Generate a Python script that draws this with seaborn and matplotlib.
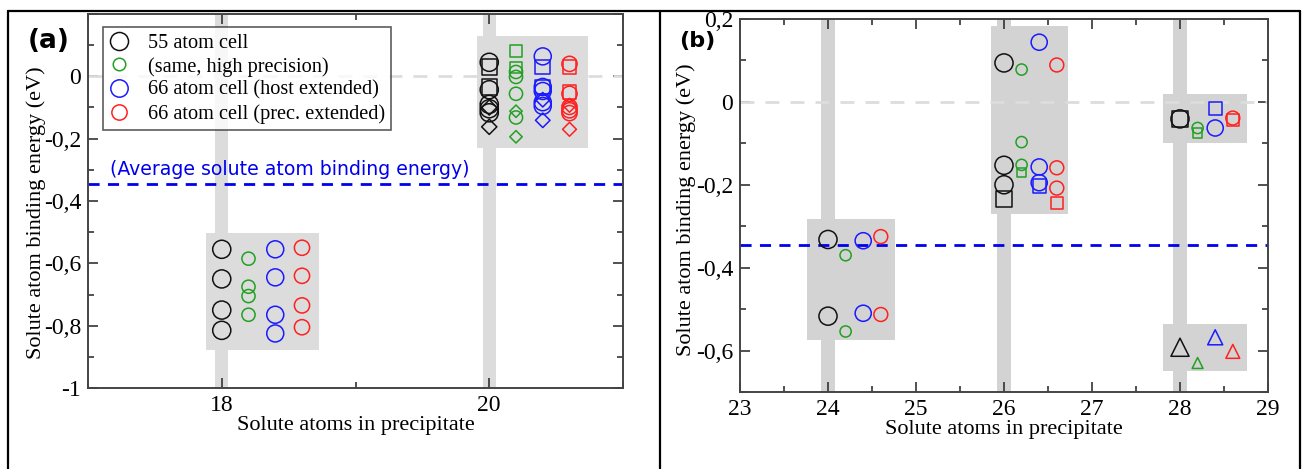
import numpy as np
import pandas as pd
import matplotlib
matplotlib.use("Agg")
import matplotlib.pyplot as plt
import seaborn as sns
from matplotlib.lines import Line2D
from matplotlib.patches import Rectangle
from matplotlib.ticker import MultipleLocator, FuncFormatter

# ---------------- data ----------------
series_labels = ["55 atom cell", "(same, high precision)",
                 "66 atom cell (host extended)", "66 atom cell (prec. extended)"]
average_binding = -0.345

# panel (a): precipitate sizes 18 and 20
a18_circle = [[-0.555, -0.650, -0.750, -0.815],
              [-0.585, -0.675, -0.705, -0.765],
              [-0.555, -0.645, -0.765, -0.825],
              [-0.550, -0.640, -0.735, -0.805]]
a20_circle = [[0.045, -0.043, -0.090, -0.104, -0.117],
              [0.014, -0.002, -0.056, -0.132],
              [0.064, -0.034, -0.047, -0.083, -0.095],
              [0.040, -0.056, -0.098, -0.109, -0.118]]
a20_square = [[0.030, -0.034],
              [0.081, 0.028],
              [0.030, -0.034],
              [0.030, -0.050]]
a20_diamond = [[-0.100, -0.162],
               [-0.112, -0.194],
               [-0.075, -0.141],
               [-0.093, -0.170]]

# panel (b): precipitate sizes 24, 26, 28
b24_circle = [[-0.332, -0.517],
              [-0.370, -0.554],
              [-0.335, -0.510],
              [-0.325, -0.513]]
b26_circle = [[0.094, -0.153, -0.200],
              [0.078, -0.097, -0.152],
              [0.144, -0.157, -0.195],
              [0.089, -0.159, -0.208]]
b26_square = [[-0.235], [-0.171], [-0.203], [-0.243]]
b28_circle = [[-0.041], [-0.063], [-0.063], [-0.039]]
b28_square = [[-0.041], [-0.075], [-0.015], [-0.043]]
b28_triangle = [[-0.592], [-0.630], [-0.568], [-0.602]]

rows = []
def add(panel, n, shape, table):
    for k, vals in enumerate(table):
        for v in vals:
            rows.append(dict(panel=panel, n=n, series=k, shape=shape, energy=v))

add("a", 18, "o", a18_circle)
add("a", 20, "o", a20_circle)
add("a", 20, "s", a20_square)
add("a", 20, "D", a20_diamond)
add("b", 24, "o", b24_circle)
add("b", 26, "o", b26_circle)
add("b", 26, "s", b26_square)
add("b", 28, "o", b28_circle)
add("b", 28, "s", b28_square)
add("b", 28, "^", b28_triangle)
df = pd.DataFrame(rows)
df["x"] = df["n"] + 0.2 * df["series"]

# ---------------- style ----------------
colors = ["#111111", "#22a022", "#1a1aff", "#ff2020"]
sizes = {
    "a": {"o": [170, 90, 150, 120], "s": [120, 70, 110, 90], "D": [60, 40, 55, 50]},
    "b": {"o": [170, 65, 135, 100], "s": [130, 45, 90, 75], "^": [170, 62, 117, 100]},
}

sns.set_style("ticks")
plt.rcParams["font.family"] = ["Liberation Serif", "DejaVu Serif"]
plt.rcParams["axes.linewidth"] = 1.4
plt.rcParams["axes.edgecolor"] = "#444444"
plt.rcParams["text.color"] = "black"
plt.rcParams["axes.labelcolor"] = "black"

fig = plt.figure(figsize=(13.02, 4.69), dpi=100)
W, H = 1302, 469
def box(l, r, t, b):
    return [l / W, 1 - b / H, (r - l) / W, (b - t) / H]

axA = fig.add_axes(box(88, 623, 14, 388))
axB = fig.add_axes(box(740, 1268, 19, 392))

def fmt(v, pos):
    if abs(v) < 1e-9:
        return "0"
    if abs(v + 1) < 1e-9:
        return "-1"
    return ("%.1f" % v).replace(".", ",")

band_col_a = "#dcdcdc"
band_col_b = "#d3d3d3"

# panel (a) background
for n in [18, 20]:
    axA.axvspan(n - 0.05, n + 0.05, color=band_col_a, lw=0, zorder=0)
axA.add_patch(Rectangle((17.88, -0.878), 0.85, 0.375, color=band_col_a, lw=0, zorder=0))
axA.add_patch(Rectangle((19.91, -0.231), 0.83, 0.359, color=band_col_a, lw=0, zorder=0))
axA.axhline(0, color="#dddddd", lw=2, ls=(0, (5, 4)), zorder=1)
axA.axhline(average_binding, color="#0000ee", lw=2, ls=(0, (4, 3)), zorder=1)

# panel (b) background
for n in [24, 26, 28]:
    axB.axvspan(n - 0.08, n + 0.08, color=band_col_b, lw=0, zorder=0)
axB.add_patch(Rectangle((23.76, -0.575), 1.0, 0.292, color=band_col_b, lw=0, zorder=0))
axB.add_patch(Rectangle((25.85, -0.271), 0.88, 0.453, color=band_col_b, lw=0, zorder=0))
axB.add_patch(Rectangle((27.81, -0.100), 0.95, 0.119, color=band_col_b, lw=0, zorder=0))
axB.add_patch(Rectangle((27.81, -0.649), 0.95, 0.112, color=band_col_b, lw=0, zorder=0))
axB.axhline(0, color="#dddddd", lw=2, ls=(0, (5, 4)), zorder=1)
axB.axhline(average_binding, color="#0000ee", lw=2, ls=(0, (4, 3)), zorder=1)

for panel, ax in [("a", axA), ("b", axB)]:
    sub = df[df.panel == panel]
    for (shape, k), g in sub.groupby(["shape", "series"]):
        sns.scatterplot(data=g, x="x", y="energy", ax=ax, marker=shape,
                        s=sizes[panel][shape][k], color=colors[k],
                        facecolor="none", edgecolor=colors[k], linewidth=1.1,
                        zorder=3, legend=False)

# axes (a)
axA.set_xlim(17, 21)
axA.set_ylim(-1, 0.2)
axA.xaxis.set_major_locator(MultipleLocator(2))
axA.xaxis.set_minor_locator(MultipleLocator(1))
axA.yaxis.set_major_locator(MultipleLocator(0.2))
axA.yaxis.set_minor_locator(MultipleLocator(0.1))
axA.yaxis.set_major_formatter(FuncFormatter(lambda v, p: "" if v > 0.1 else fmt(v, p)))
axA.xaxis.set_major_formatter(FuncFormatter(lambda v, p: "%d" % round(v)))

# axes (b)
axB.set_xlim(23, 29)
axB.set_ylim(-0.7, 0.2)
axB.xaxis.set_major_locator(MultipleLocator(1))
axB.xaxis.set_minor_locator(MultipleLocator(0.5))
axB.yaxis.set_major_locator(MultipleLocator(0.2))
axB.yaxis.set_minor_locator(MultipleLocator(0.1))
axB.yaxis.set_major_formatter(FuncFormatter(fmt))
axB.xaxis.set_major_formatter(FuncFormatter(lambda v, p: "%d" % round(v)))

for ax in (axA, axB):
    ax.tick_params(which="both", direction="in", top=True, right=True,
                   colors="#333333", labelcolor="black", labelsize=17)
    ax.tick_params(which="major", length=7, width=1.2, pad=5)
    ax.tick_params(which="minor", length=4, width=1.2)
    ax.set_xlabel("Solute atoms in precipitate", fontsize=16, labelpad=0)
    ax.set_ylabel("Solute atom binding energy (eV)", fontsize=16)
    for s in ax.spines.values():
        s.set_visible(True)
axA.yaxis.set_label_coords(-0.079, 0.47)
axB.yaxis.set_label_coords(-0.084, 0.49)

axA.text(17.165, -0.33, "(Average solute atom binding energy)", color="#0000ee",
         fontsize=13.6, family="DejaVu Sans", va="bottom", ha="left")

# legend
leg_sizes = [13, 9, 12.5, 11]
handles = [Line2D([], [], ls="none", marker="o", ms=leg_sizes[k], mfc="none",
                  mec=colors[k], mew=1.1) for k in range(4)]
leg = axA.legend(handles, series_labels, loc="upper left", bbox_to_anchor=(0.028, 0.964),
                 frameon=True, fancybox=False, edgecolor="#333333", fontsize=14.6,
                 handlelength=1.0, handletextpad=0.9, borderpad=0.3, labelspacing=0.2,
                 borderaxespad=0)
leg.get_frame().set_linewidth(1.2)
leg.set_zorder(5)

# panel letters
fig.text(28 / W, 1 - 41 / H, "(a)", fontsize=19, fontweight="bold", family="DejaVu Sans",
         va="center", color="black")
fig.text(679 / W, 1 - 41 / H, "(b)", fontsize=16, fontweight="bold", family="DejaVu Sans",
         va="center", color="black")

# outer frame lines
lw = 1.6
fig.add_artist(Line2D([8 / W, 1300 / W], [1 - 11 / H, 1 - 11 / H], color="black", lw=lw, transform=fig.transFigure))
for xp in [8, 660, 1300]:
    fig.add_artist(Line2D([xp / W, xp / W], [0, 1 - 11 / H], color="black", lw=lw, transform=fig.transFigure))

fig.savefig("out.png", dpi=100)
